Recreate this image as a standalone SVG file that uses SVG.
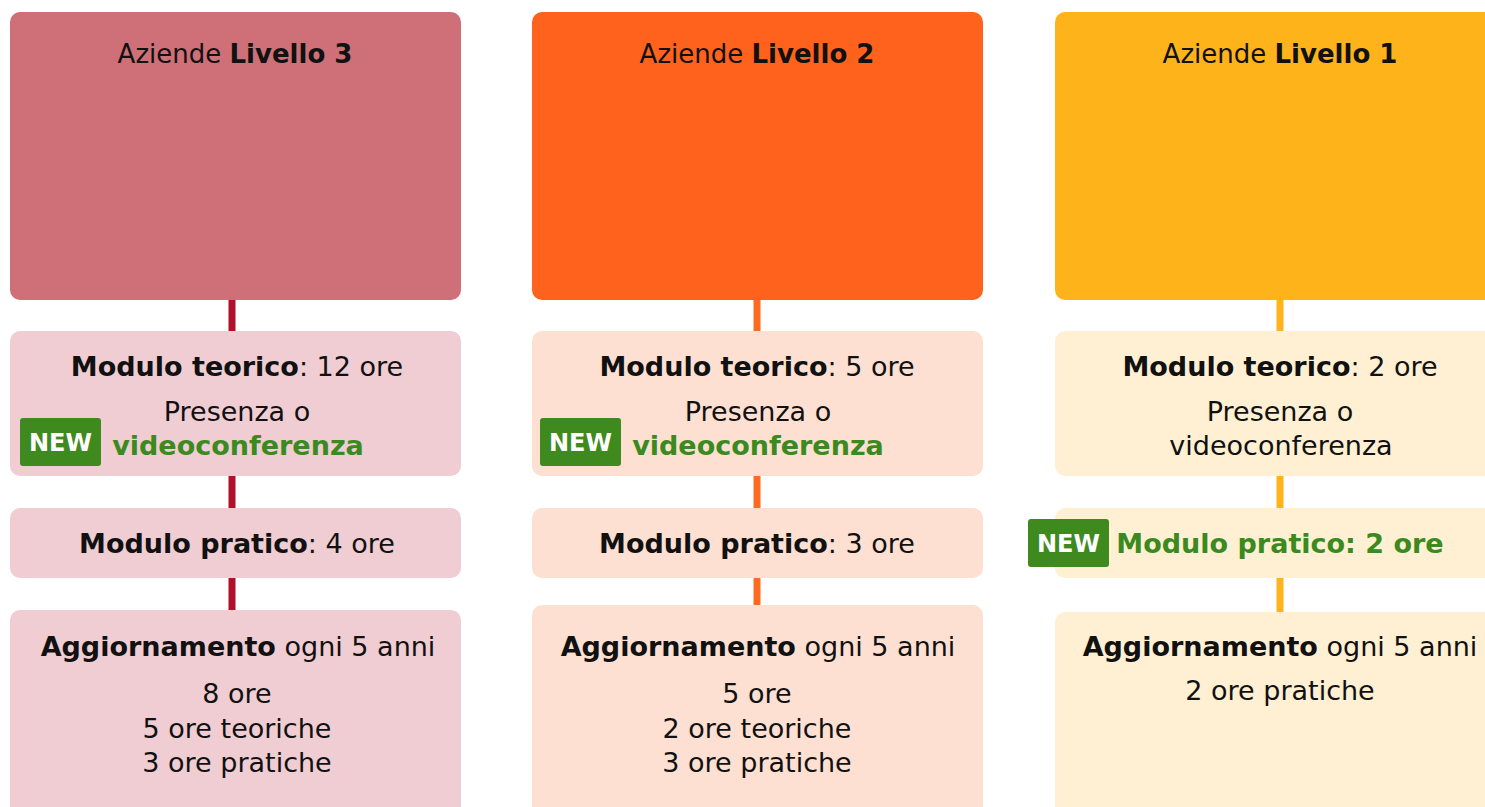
<svg xmlns="http://www.w3.org/2000/svg" width="1485" height="807" viewBox="0 0 1485 807">
<style>
text{font-family:"DejaVu Sans","Liberation Sans",sans-serif;font-size:27px;fill:#111;text-anchor:middle}
.t{font-size:26px}
.b{font-weight:bold}
.g{fill:#3a8a20;font-weight:bold}
.nw{fill:#fff;font-weight:bold;font-size:24px}
.badge{fill:#3f8a1e}
.l3{stroke:#b0102a;stroke-width:7}
.l2{stroke:#ff6a20;stroke-width:7}
.l1{stroke:#ffb41a;stroke-width:7}
</style>
<rect width="1485" height="807" fill="#fff"/>
<g id="connectors">
<line class="l3" x1="232" y1="298" x2="232" y2="333"/>
<line class="l3" x1="232" y1="474" x2="232" y2="510"/>
<line class="l3" x1="232" y1="576" x2="232" y2="612"/>
<line class="l2" x1="757" y1="298" x2="757" y2="333"/>
<line class="l2" x1="757" y1="474" x2="757" y2="510"/>
<line class="l2" x1="757" y1="576" x2="757" y2="607"/>
<line class="l1" x1="1280" y1="298" x2="1280" y2="333"/>
<line class="l1" x1="1280" y1="474" x2="1280" y2="510"/>
<line class="l1" x1="1280" y1="576" x2="1280" y2="614"/>
</g>
<g id="col3-head"><rect x="10" y="12" width="451" height="288" rx="10" fill="#cf6f77"/>
<text class="t" x="235" y="63">Aziende <tspan class="b">Livello 3</tspan></text></g>
<g id="col3-teorico"><rect x="10" y="331" width="451" height="145" rx="10" fill="#efcdd3"/>
<text x="237" y="376"><tspan class="b">Modulo teorico</tspan>: 12 ore</text>
<text x="237" y="421">Presenza o</text>
<rect class="badge" x="20" y="418" width="81" height="48" rx="3"/>
<text class="nw" x="60.5" y="451">NEW</text>
<text class="g" x="238" y="455">videoconferenza</text></g>
<g id="col3-pratico"><rect x="10" y="508" width="451" height="70" rx="10" fill="#efcdd3"/>
<text x="237" y="553"><tspan class="b">Modulo pratico</tspan>: 4 ore</text></g>
<g id="col3-agg"><rect x="10" y="610" width="451" height="210" rx="10" fill="#efcdd3"/>
<text x="238" y="656"><tspan class="b">Aggiornamento</tspan> ogni 5 anni</text>
<text x="237" y="703">8 ore</text>
<text x="237" y="738">5 ore teoriche</text>
<text x="237" y="772">3 ore pratiche</text></g>

<g id="col2-head"><rect x="532" y="12" width="451" height="288" rx="10" fill="#ff621d"/>
<text class="t" x="757" y="63">Aziende <tspan class="b">Livello 2</tspan></text></g>
<g id="col2-teorico"><rect x="532" y="331" width="451" height="145" rx="10" fill="#fde0d2"/>
<text x="757" y="376"><tspan class="b">Modulo teorico</tspan>: 5 ore</text>
<text x="758" y="421">Presenza o</text>
<rect class="badge" x="540" y="418" width="81" height="48" rx="3"/>
<text class="nw" x="580.5" y="451">NEW</text>
<text class="g" x="758" y="455">videoconferenza</text></g>
<g id="col2-pratico"><rect x="532" y="508" width="451" height="70" rx="10" fill="#fde0d2"/>
<text x="757" y="553"><tspan class="b">Modulo pratico</tspan>: 3 ore</text></g>
<g id="col2-agg"><rect x="532" y="605" width="451" height="215" rx="10" fill="#fde0d2"/>
<text x="758" y="656"><tspan class="b">Aggiornamento</tspan> ogni 5 anni</text>
<text x="757" y="703">5 ore</text>
<text x="757" y="738">2 ore teoriche</text>
<text x="757" y="772">3 ore pratiche</text></g>

<g id="col1-head"><rect x="1055" y="12" width="445" height="288" rx="10" fill="#ffb31a"/>
<text class="t" x="1280" y="63">Aziende <tspan class="b">Livello 1</tspan></text></g>
<g id="col1-teorico"><rect x="1055" y="331" width="445" height="145" rx="10" fill="#fff0d3"/>
<text x="1280" y="376"><tspan class="b">Modulo teorico</tspan>: 2 ore</text>
<text x="1280" y="421">Presenza o</text>
<text x="1281" y="455">videoconferenza</text></g>
<g id="col1-pratico"><rect x="1055" y="508" width="445" height="70" rx="10" fill="#fff0d3"/>
<rect class="badge" x="1028" y="519" width="81" height="48" rx="3"/>
<text class="nw" x="1068.5" y="552">NEW</text>
<text class="g" x="1280" y="553">Modulo pratico: 2 ore</text></g>
<g id="col1-agg"><rect x="1055" y="612" width="445" height="210" rx="10" fill="#fff0d3"/>
<text x="1280" y="656"><tspan class="b">Aggiornamento</tspan> ogni 5 anni</text>
<text x="1280" y="700">2 ore pratiche</text></g>
</svg>
